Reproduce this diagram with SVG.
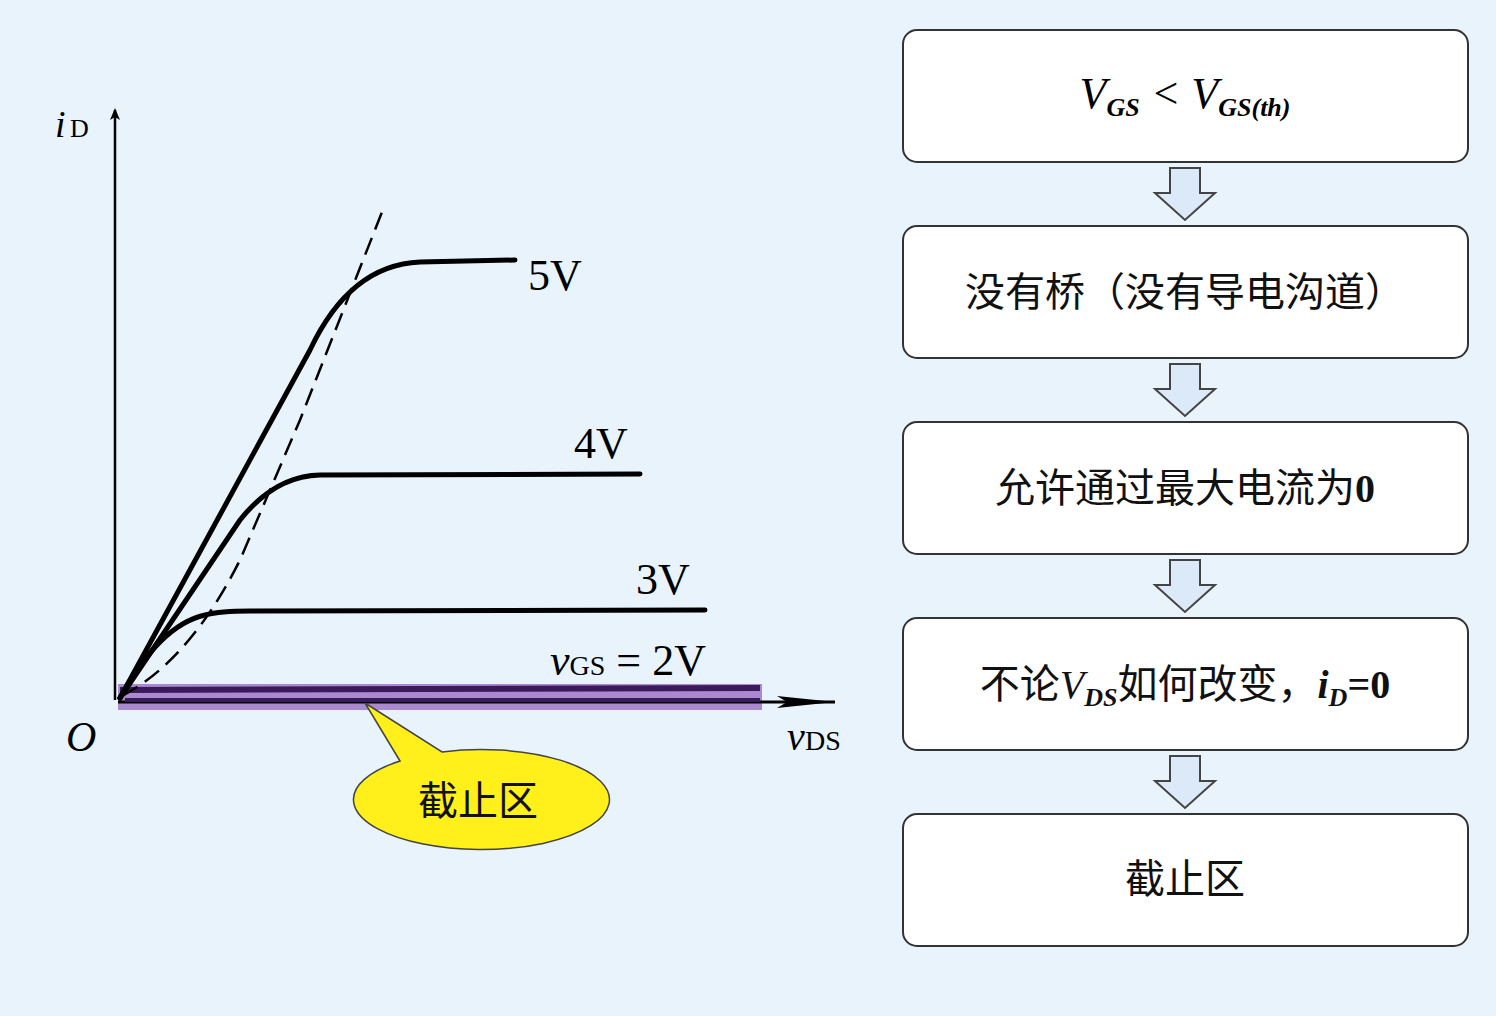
<svg xmlns="http://www.w3.org/2000/svg" width="1496" height="1016" viewBox="0 0 1496 1016">
<style>
.box{fill:#fff;stroke:#333;stroke-width:2}
.cn{font-family:"Liberation Serif","Noto Sans CJK SC",serif;font-size:40px;fill:#111}
.it{font-family:"Liberation Serif",serif;font-style:italic}
.curve{fill:none;stroke:#000;stroke-width:5;stroke-linecap:round}
.darr{fill:#dbe9f8;stroke:#444;stroke-width:2}
</style>
<defs>
<marker id="ah" markerWidth="12" markerHeight="10" refX="10" refY="5" orient="auto" markerUnits="userSpaceOnUse"><path d="M0,0 L12,5 L0,10 L3,5 Z" fill="#000"/></marker>
<marker id="ah2" markerWidth="60" markerHeight="20" refX="58" refY="10" orient="auto" markerUnits="userSpaceOnUse"><path d="M0,4 L58,10 L0,16 L10,10 Z" fill="#000"/></marker>
</defs>
<rect width="1496" height="1016" fill="#e8f3fc"/>
<g id="chart">
<line x1="115" y1="700" x2="115" y2="110" stroke="#000" stroke-width="2.5" marker-end="url(#ah)"/>
<rect x="118" y="684" width="644" height="26" fill="#a98ad0"/>
<line x1="118" y1="702" x2="835" y2="702" stroke="#000" stroke-width="3" marker-end="url(#ah2)"/>
<path d="M120,690 L760,688" stroke="#3a1a5a" stroke-width="6" fill="none"/>
<path d="M125,700 L760,700" stroke="#3a1a5a" stroke-width="4" fill="none"/>
<path class="curve" d="M120,698 L310,350 Q350,265 420,262 L515,260"/>
<path class="curve" d="M120,698 L240,520 Q275,476 320,475 L640,474"/>
<path class="curve" d="M120,698 Q160,625 205,615 Q220,611 250,611 L705,610"/>
<path d="M122,696 Q190,660 240,560 L300,420 L382,212" fill="none" stroke="#000" stroke-width="2.5" stroke-dasharray="18,9"/>
<text class="it" x="55" y="137" font-size="38">i</text><text x="70" y="137" font-family="Liberation Serif,serif" font-size="26">D</text>
<text class="it" x="66" y="751" font-size="42">O</text>
<text class="it" x="787" y="750" font-size="40">v</text><text x="805" y="750" font-family="Liberation Serif,serif" font-size="28">DS</text>
<text x="528" y="290" font-family="Liberation Serif,serif" font-size="44">5V</text>
<text x="574" y="458" font-family="Liberation Serif,serif" font-size="44">4V</text>
<text x="636" y="594" font-family="Liberation Serif,serif" font-size="44">3V</text>
<text x="550" y="675" font-family="Liberation Serif,serif" font-size="44"><tspan font-style="italic">v</tspan><tspan font-size="28">GS</tspan> = 2V</text>
</g>
<g id="callout">
<path d="M400,761 L365,703 L442,752 A128,50 0 1 1 400,761 Z" fill="#ffef1a" stroke="#444" stroke-width="1.5"/>
<text class="cn" x="478" y="815" text-anchor="middle">截止区</text>
</g>
<g id="n1"><rect class="box" x="903" y="30" width="565" height="132" rx="14"/>
<text class="it" x="1185" y="108" text-anchor="middle" font-size="44">V<tspan font-size="26" font-weight="bold" dy="8">GS</tspan><tspan dy="-8"> &lt; V</tspan><tspan font-size="26" font-weight="bold" dy="8">GS(th)</tspan></text></g>
<g id="n2"><rect class="box" x="903" y="226" width="565" height="132" rx="14"/>
<text class="cn" x="1185" y="306" text-anchor="middle">没有桥（没有导电沟道）</text></g>
<g id="n3"><rect class="box" x="903" y="422" width="565" height="132" rx="14"/>
<text class="cn" x="1185" y="502" text-anchor="middle">允许通过最大电流为<tspan font-weight="bold">0</tspan></text></g>
<g id="n4"><rect class="box" x="903" y="618" width="565" height="132" rx="14"/>
<text class="cn" x="1185" y="698" text-anchor="middle">不论<tspan class="it">V</tspan><tspan class="it" font-size="26" font-weight="bold" dy="8">DS</tspan><tspan dy="-8">如何改变，</tspan><tspan class="it" font-weight="bold">i</tspan><tspan class="it" font-size="26" font-weight="bold" dy="8">D</tspan><tspan dy="-8" font-weight="bold">=0</tspan></text></g>
<g id="n5"><rect class="box" x="903" y="814" width="565" height="132" rx="14"/>
<text class="cn" x="1185" y="893" text-anchor="middle">截止区</text></g>
<g id="connectors">
<path class="darr" d="M1170,168 L1200,168 L1200,193 L1215,193 L1185,220 L1155,193 L1170,193 Z"/>
<path class="darr" d="M1170,364 L1200,364 L1200,389 L1215,389 L1185,416 L1155,389 L1170,389 Z"/>
<path class="darr" d="M1170,560 L1200,560 L1200,585 L1215,585 L1185,612 L1155,585 L1170,585 Z"/>
<path class="darr" d="M1170,756 L1200,756 L1200,781 L1215,781 L1185,808 L1155,781 L1170,781 Z"/>
</g>
</svg>
